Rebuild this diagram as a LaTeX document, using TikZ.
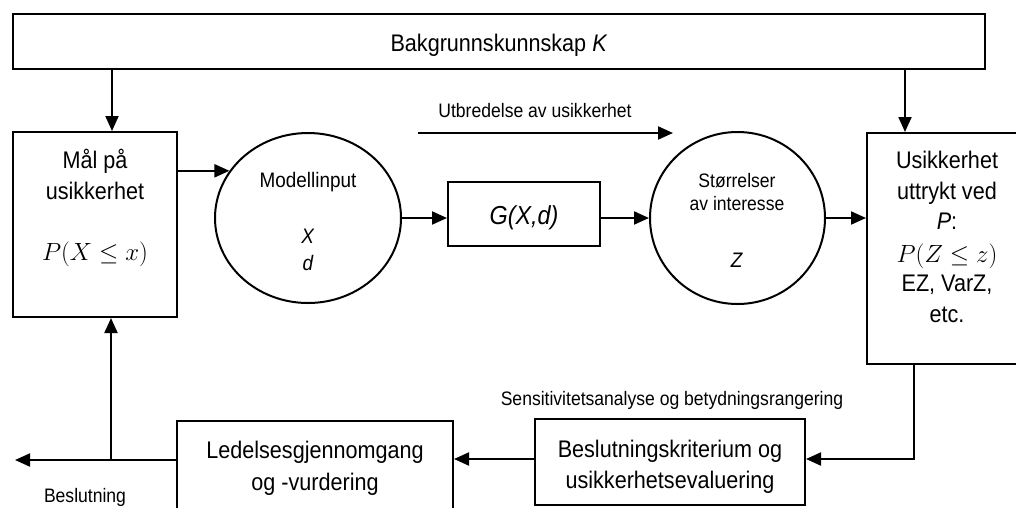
\documentclass[tikz,border=0pt]{standalone}
\usepackage{fontspec}
\setmainfont{Liberation Sans}[FakeStretch=0.9]
\usetikzlibrary{arrows.meta,shapes.geometric}
\begin{document}
\begin{tikzpicture}[x=1pt,y=-1pt,
  line width=2pt,
  box/.style={draw, rectangle, inner sep=0pt, line width=2pt},
  oval/.style={draw, ellipse, inner sep=0pt, line width=2pt},
  arr/.style={-{Triangle[length=15pt,width=13pt]}},
  big/.style={font=\fontsize{24}{30}\selectfont, anchor=base, inner sep=0pt},
  mid/.style={font=\fontsize{21}{26}\selectfont, anchor=base, inner sep=0pt},
  small/.style={font=\fontsize{19.5}{23}\selectfont, anchor=base, inner sep=0pt},
]
\useasboundingbox (0,0) rectangle (1016,507);
\clip (0,0) rectangle (1016,507);

% frames
\node[box, minimum width=972pt, minimum height=55pt] (kb) at (499,41.5) {};
\node[box, minimum width=164pt, minimum height=185pt] (maal) at (95,224.5) {};
\node[box, minimum width=163pt, minimum height=231pt] (usik) at (948.5,248.5) {};
\node[box, minimum width=152pt, minimum height=64pt] (gxd) at (524,214) {};
\node[box, minimum width=270pt, minimum height=86pt] (krit) at (670,462) {};
\node[box, minimum width=276pt, minimum height=120pt] (led) at (315,481) {};
\node[oval, minimum width=186pt, minimum height=170pt] (inp) at (308,218) {};
\node[oval, minimum width=175pt, minimum height=172pt] (str) at (737.5,218) {};

% texts
\node[big] (kbt) at (499,51) {Bakgrunnskunnskap \textit{K}};

\node[big] (m1) at (95,168) {Mål på};
\node[big] (m2) at (95,199) {usikkerhet};
\node[big] (m3) at (95,260) {$P(X\le x)$};

\node[mid] (i1) at (308,187) {Modellinput};
\node[mid] (i2) at (308,243) {\textit{X}};
\node[mid] (i3) at (308,270) {\textit{d}};

\node[font=\fontsize{26}{30}\selectfont\itshape, anchor=base, inner sep=0pt] (gt) at (524,224) {G(X,d)};

\node[small] (s1) at (737,187) {Størrelser};
\node[small] (s2) at (737,210) {av interesse};
\node[mid] (s3) at (737,267) {\textit{Z}};

\node[big] (u1) at (947,168) {Usikkerhet};
\node[big] (u2) at (947,199) {uttrykt ved};
\node[big] (u3) at (947,229) {\textit{P}:};
\node[big] (u4) at (947,262) {$P(Z\le z)$};
\node[big] (u5) at (947,291) {EZ, VarZ,};
\node[big] (u6) at (947,322) {etc.};

\node[small] (prop) at (535,117) {Utbredelse av usikkerhet};
\node[small] (sens) at (672,405) {Sensitivitetsanalyse og betydningsrangering};

\node[big] (k1) at (670,457) {Beslutningskriterium og};
\node[big] (k2) at (670,488) {usikkerhetsevaluering};
\node[big] (l1) at (315,458) {Ledelsesgjennomgang};
\node[big] (l2) at (315,490) {og -vurdering};
\node[small] (bes) at (85,502) {Beslutning};

% helper coordinates
\coordinate (xl) at (112,0);
\coordinate (xr) at (905,0);
\coordinate (xk) at (914,0);
\coordinate (yk) at (0,459);
\coordinate (pa) at (418,133);
\coordinate (pb) at (673,133);
\coordinate (out) at (15,460);
\coordinate (br) at (111,460);

% connectors
\draw[arr] (kb.south -| xl) -- (maal.north -| xl);
\draw[arr] (kb.south -| xr) -- (usik.north -| xr);
\draw[arr] (maal.east |- inp.149.5) -- (inp.149.5);
\draw[arr] (inp.east) -- (inp.east -| gxd.west);
\draw[arr] (gxd.east |- str.west) -- (str.west);
\draw[arr] (str.east) -- (str.east -| usik.west);
\draw[arr] (pa) -- (pb);
\draw[arr] (usik.south -| xk) |- (krit.east |- yk);
\draw[arr] (krit.west |- yk) -- (led.east |- yk);
\draw[arr] (led.west |- out) -- (out);
\draw[arr] (br) -- (maal.south -| br);
\end{tikzpicture}
\end{document}
